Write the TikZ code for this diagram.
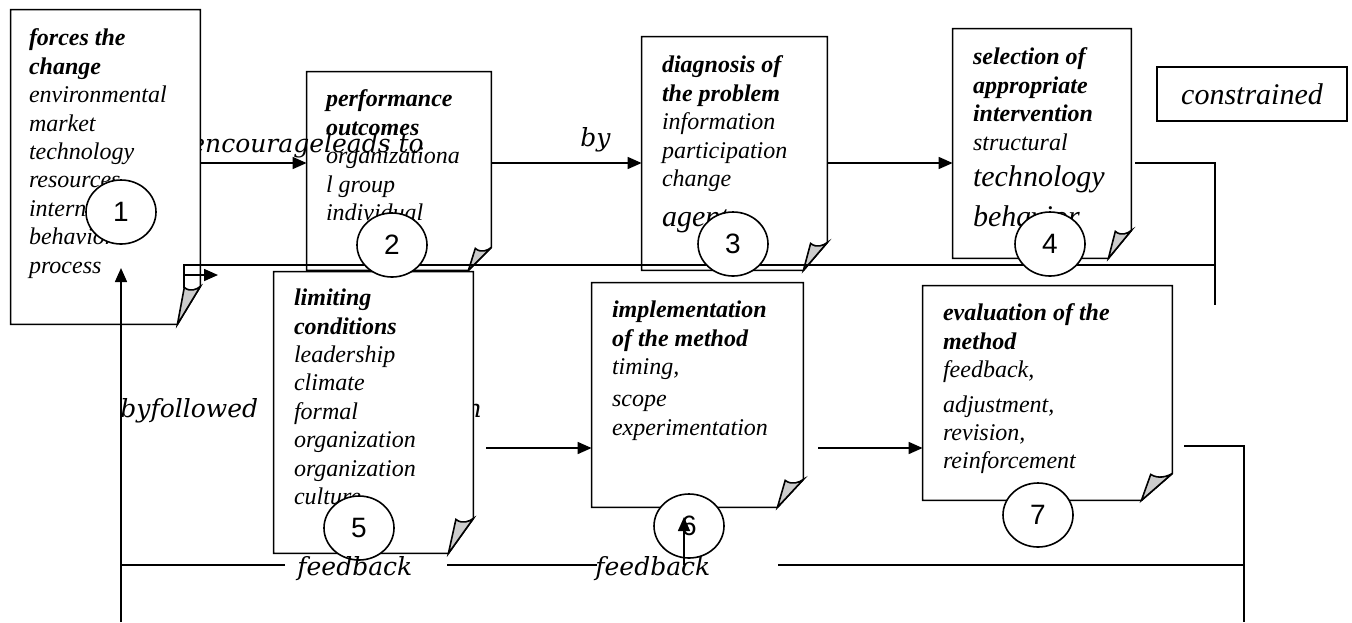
\documentclass[tikz,border=0pt]{standalone}
\usepackage{fontspec}
\setmainfont{Liberation Serif}
\newfontfamily\labelfont{DejaVu Serif}
\newfontfamily\numfont{Liberation Sans}
\usetikzlibrary{arrows.meta, calc, fit, shapes.geometric}

\colorlet{foldgray}{black!20}

% page with a turned-up corner: node, fold width, fold height (px)
\newcommand{\foldpage}[3]{%
  \coordinate (#1-fa) at ($(#1.south east)+(-#2,0)$);
  \coordinate (#1-fc) at ($(#1.south east)+(0,-#3)$);
  \filldraw[pageline, fill=white] (#1.north west) -- (#1.north east) -- (#1-fc) -- (#1-fa) -- (#1.south west) -- cycle;
  \filldraw[pageline, fill=foldgray] (#1-fa) -- ($(#1-fc)+(-0.7*#2,1)$)
    .. controls ($(#1-fc)+(-0.45*#2,6)$) and ($(#1-fc)+(-0.15*#2,3)$) .. (#1-fc) -- cycle;
}

\begin{document}
\begin{tikzpicture}[x=0.5pt, y=-0.5pt, >={Triangle[length=7pt,width=6pt]},
    pageline/.style={line width=0.8pt},
    pagebox/.style={inner sep=0pt, draw=none, fill=none},
    boxtext/.style={anchor=north west, inner sep=0pt, align=left,
      font=\fontsize{12}{14.2}\selectfont\itshape},
    num/.style={ellipse, draw, line width=0.8pt, fill=white, inner sep=0pt,
      minimum width=35pt, minimum height=32pt, font=\numfont\fontsize{14}{14}\selectfont},
    wordlabel/.style={inner sep=0pt, anchor=base west,
      font=\labelfont\itshape\fontsize{12.5}{14}\selectfont},
    conn/.style={line width=0.8pt}]

    \useasboundingbox (0,0) rectangle (1352,622);

    % Pages, upper row and lower row
    \node[pagebox, fit={(307,72) (491,270)}] (b2) {};
    \node[pagebox, fit={(642,37) (827,270)}] (b3) {};
    \node[pagebox, fit={(953,29) (1131,258)}] (b4) {};
    \node[pagebox, fit={(592,283) (803,507)}] (b6) {};
    \node[pagebox, fit={(923,286) (1172,500)}] (b7) {};
    \node[pagebox, fit={(11,10) (200,324)}] (b1) {};
    \node[pagebox, fit={(274,272) (473,553)}] (b5) {};
    \foldpage{b2}{23}{23}
    \foldpage{b3}{24}{28}
    \foldpage{b4}{23}{28}
    \foldpage{b6}{26}{28}
    \foldpage{b7}{31}{27}

    % Labels partly under the pages
    \node[wordlabel] (lenc) at (190,152) {encourageleads to};
    \node[wordlabel] (lby) at (580,146) {by};
    \node[wordlabel] (lbyf) at (120,417) {byfollowed};
    \node[wordlabel, anchor=base east] (ln) at (482,417) {n};

    \foldpage{b1}{23}{38}
    \foldpage{b5}{25}{35}

    % Page texts
    \node[boxtext] (t1) at ($(b1.north west)+(18,19)$) {\textbf{forces the}\\\textbf{change}\\environmental\\market\\technology\\resources\\internal\\behavior\\process};
    \node[boxtext] (t2) at ($(b2.north west)+(19,18)$) {\textbf{performance}\\\textbf{outcomes}\\organizationa\\l group\\individual};
    \node[boxtext] (t3) at ($(b3.north west)+(20,19)$) {\textbf{diagnosis of}\\\textbf{the problem}\\information\\participation\\change\\[6pt]{\fontsize{15}{18}\selectfont agent}};
    \node[boxtext] (t4) at ($(b4.north west)+(20,19)$) {\textbf{selection of}\\\textbf{appropriate}\\\textbf{intervention}\\structural\\[4pt]{\fontsize{15}{18}\selectfont technology}\\[6pt]{\fontsize{15}{18}\selectfont behavior}};
    \node[boxtext] (t5) at ($(b5.north west)+(20,17)$) {\textbf{limiting}\\\textbf{conditions}\\leadership\\climate\\formal\\organization\\organization\\culture};
    \node[boxtext] (t6) at ($(b6.north west)+(20,18)$) {\textbf{implementation}\\\textbf{of the method}\\timing,\\[2pt]scope\\experimentation};
    \node[boxtext] (t7) at ($(b7.north west)+(20,18)$) {\textbf{evaluation of the}\\\textbf{method}\\feedback,\\[3pt]adjustment,\\revision,\\reinforcement};

    \node[draw, line width=0.8pt, inner sep=0pt, minimum width=95pt, minimum height=27pt,
      font=\fontsize{15}{15}\selectfont\itshape] (cons) at (1252,94) {constrained};

    % Upper row
    \coordinate (r1) at (0,163);
    \draw[conn,->] (b1.east |- r1) -- (b2.west |- r1);
    \draw[conn,->] (b2.east |- r1) -- (b3.west |- r1);
    \draw[conn,->] (b3.east |- r1) -- (b4.west |- r1);
    \coordinate (k1) at (1215,163);
    \coordinate (k2) at (1215,305);
    \draw[conn] (b4.east |- r1) ++(4,0) -- (k1) -- (k2);

    % Line back between the rows
    \coordinate (k3) at (1215,265);
    \coordinate (k4) at (184,265);
    \coordinate (k7) at (184,288);
    \coordinate (k5) at (184,275);
    \coordinate (k6) at (218,275);
    \draw[conn] (k3) -- (k4) -- (k7);
    \draw[conn,->] (k5) -- (k6);

    % Lower row
    \coordinate (r2) at (0,448);
    \draw[conn,->] (b5.east |- r2) ++(13,0) -- (b6.west |- r2);
    \draw[conn,->] (b6.east |- r2) ++(15,0) -- (b7.west |- r2);
    \coordinate (m1) at (1244,446);
    \coordinate (m2) at (1244,622);
    \draw[conn] (b7.east |- m1) ++(12,0) -- (m1) -- (m2);

    % Feedback line
    \coordinate (fbR) at (1244,565);
    \coordinate (g1) at (778,565);
    \coordinate (g2) at (597,565);
    \coordinate (g3) at (447,565);
    \coordinate (g4) at (285,565);
    \coordinate (fbL) at (121,565);
    \draw[conn] (fbR) -- (g1);
    \draw[conn] (g2) -- (g3);
    \draw[conn] (g4) -- (fbL);
    \coordinate (up0) at (121,622);
    \coordinate (up1) at (121,268);
    \draw[conn,->] (up0) -- (up1);

    % Step numbers
    \node[num] (c1) at (121,212) {1};
    \node[num] (c2) at (392,245) {2};
    \node[num] (c3) at (733,244) {3};
    \node[num] (c4) at (1050,244) {4};
    \node[num] (c5) at (359,528) {5};
    \node[num] (c6) at (689,526) {6};
    \node[num] (c7) at (1038,515) {7};

    \node[wordlabel] (lfb1) at (297,575) {feedback};
    \node[wordlabel] (lfb2) at (595,575) {feedback};
    \coordinate (s0) at (684,565);
    \coordinate (s1) at (684,517);
    \draw[conn,->] (s0) -- (s1);
\end{tikzpicture}
\end{document}
